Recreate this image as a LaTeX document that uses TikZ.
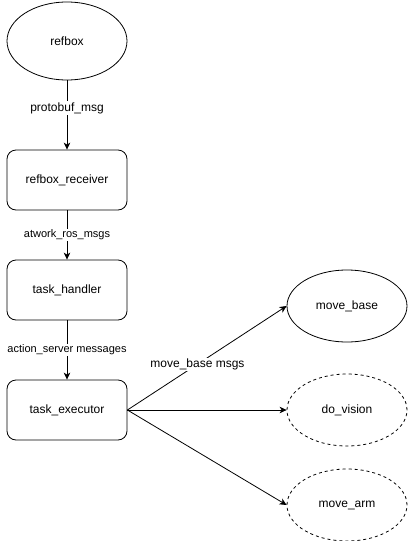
\documentclass[tikz,border=0pt]{standalone}
\usepackage{fontspec}
\setmainfont{Liberation Sans}
\usetikzlibrary{shapes.geometric,arrows.meta}

\tikzset{
    proc/.style={draw, rectangle, rounded corners=9pt, minimum width=120pt,
        minimum height=60pt, inner sep=0pt, font=\fontsize{12}{14}\selectfont},
    srv/.style={draw, ellipse, minimum width=120pt, minimum height=72pt,
        inner sep=0pt, font=\fontsize{12}{14}\selectfont},
    msg/.style={fill=white, inner sep=1pt, font=\fontsize{11}{13}\selectfont},
}

\begin{document}
\begin{tikzpicture}[x=1pt,y=-1pt,>={Stealth[length=7pt,width=6.5pt,inset=2pt]},line width=0.8pt]

    \useasboundingbox (0,0) rectangle (408,541);

    \node[srv, minimum height=78pt] (refbox) at (67,41) {refbox};
    \node[proc] (receiver) at (67,180) {refbox\_receiver};
    \node[proc] (handler) at (67,290) {task\_handler};
    \node[proc] (executor) at (67,410) {task\_executor};

    \node[srv] (movebase) at (347,306) {move\_base};
    \node[srv, dashed] (vision) at (347,410) {do\_vision};
    \node[srv, dashed] (movearm) at (347,505) {move\_arm};

    \draw[->] (refbox) -- (receiver)
        node[msg, pos=0.4, font=\fontsize{12}{14}\selectfont] {protobuf\_msg};
    \draw[->] (receiver) -- (handler)
        node[msg, midway] {atwork\_ros\_msgs};
    \draw[->] (handler) -- (executor)
        node[msg, midway] {action\_server messages};

    \draw[->] (executor.east) -- (movebase.west)
        node[msg, pos=0.44, font=\fontsize{12}{14}\selectfont] {move\_base msgs};
    \draw[->] (executor.east) -- (vision.west);
    \draw[->] (executor.east) -- (movearm.west);

\end{tikzpicture}
\end{document}
